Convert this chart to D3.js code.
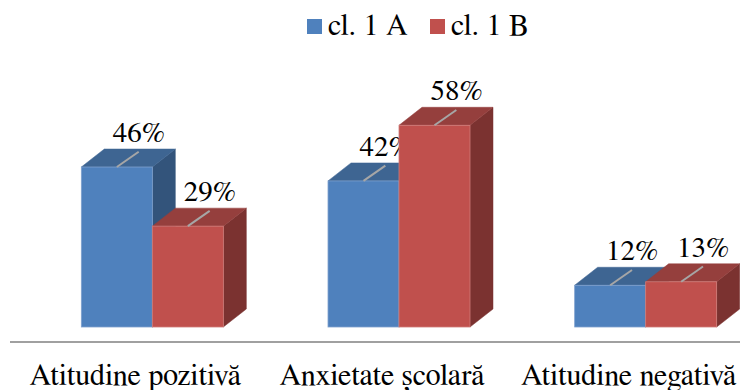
<!DOCTYPE html>
<html>
<head>
<meta charset="utf-8">
<script src="https://cdn.jsdelivr.net/npm/d3@7"></script>
<style>
  html, body { margin: 0; padding: 0; background: #fff; }
  svg { display: block; }
</style>
</head>
<body>
<svg id="chart" width="740" height="390"></svg>
<script>
// Categories, series and values (percent)
const categories = ["Atitudine pozitivă", "Anxietate școlară", "Atitudine negativă"];
const seriesNames = ["cl. 1 A", "cl. 1 B"];
const valuesA = [46, 42, 12];
const valuesB = [29, 58, 13];

const W = 740, H = 390;
const FONT = '"FreeSerif", "Liberation Serif", "Times New Roman", serif';
const svg = d3.select("#chart");

// 3D look: front, top and side shades for each series
const palette = [
  { front: "#4F81BD", top: "#3E6592", side: "#33547B", edge: "#7FA1CE" },
  { front: "#C0504D", top: "#953F3D", side: "#7B3230", edge: "#D07C79" }
];
const depthX = 23, depthY = -18;

const x = d3.scaleBand().domain(categories).range([29, 769]).padding(0);
const barW = 71;
const y = d3.scaleLinear().domain([0, 50]).range([327, 153.1]);

const sub = d3.scaleBand().domain(seriesNames).range([0, barW * 2]).padding(0);

const data = categories.map((c, i) => ({
  cat: c,
  vals: [valuesA[i], valuesB[i]]
}));

// Axis line along the front of the floor
svg.append("line")
  .attr("x1", 10).attr("x2", W)
  .attr("y1", 342).attr("y2", 342)
  .attr("stroke", "#A0A0A0").attr("stroke-width", 2);

const groups = svg.selectAll("g.cat").data(data).join("g")
  .attr("class", "cat")
  .attr("transform", d => `translate(${x(d.cat) + x.bandwidth() / 2 - barW},0)`);

groups.each(function(d) {
  const g = d3.select(this);
  d.vals.forEach((v, si) => {
    const col = palette[si];
    const x0 = sub(seriesNames[si]), x1 = x0 + sub.bandwidth();
    const yt = y(v), yb = y(0);
    const bar = g.append("g");
    // side face
    bar.append("path")
      .attr("d", `M${x1},${yt} L${x1 + depthX},${yt + depthY} L${x1 + depthX},${yb + depthY} L${x1},${yb} Z`)
      .attr("fill", col.side).attr("stroke", col.side).attr("stroke-width", 0.5);
    // top face
    bar.append("path")
      .attr("d", `M${x0},${yt} L${x0 + depthX},${yt + depthY} L${x1 + depthX},${yt + depthY} L${x1},${yt} Z`)
      .attr("fill", col.top).attr("stroke", col.top).attr("stroke-width", 0.5);
    // front face
    bar.append("rect")
      .attr("x", x0).attr("y", yt)
      .attr("width", x1 - x0).attr("height", yb - yt)
      .attr("fill", col.front)
      .attr("stroke", col.edge).attr("stroke-width", 0.8);
    // leader line across the top face
    const cx = (x0 + x1) / 2;
    bar.append("line")
      .attr("x1", cx).attr("y1", yt)
      .attr("x2", cx + depthX * 0.95).attr("y2", yt + depthY * 0.85)
      .attr("stroke", "#A6A6A6").attr("stroke-width", 2);
    // value label
    bar.append("text")
      .attr("x", cx + depthX - 1)
      .attr("y", yt + depthY - 7)
      .attr("text-anchor", "middle")
      .style("font-family", FONT)
      .attr("font-size", 29)
      .attr("fill", "#000")
      .text(v + "%");
  });
});

// Category labels
svg.selectAll("text.cat-label").data(categories).join("text")
  .attr("class", "cat-label")
  .attr("x", d => x(d) + x.bandwidth() / 2 - 17)
  .attr("y", 385)
  .attr("text-anchor", "middle")
  .style("font-family", FONT)
  .attr("font-size", 30)
  .attr("fill", "#000")
  .text(d => d);

// Legend
const legend = svg.append("g").attr("transform", "translate(307,0)");
seriesNames.forEach((name, i) => {
  const lg = legend.append("g").attr("transform", `translate(${i * 123},0)`);
  lg.append("rect").attr("x", 0).attr("y", 19).attr("width", 15).attr("height", 15)
    .attr("fill", palette[i].front);
  lg.append("text").attr("x", 21).attr("y", 35)
    .style("font-family", FONT).attr("font-size", 30).attr("fill", "#000")
    .text(name);
});
</script>
</body>
</html>
